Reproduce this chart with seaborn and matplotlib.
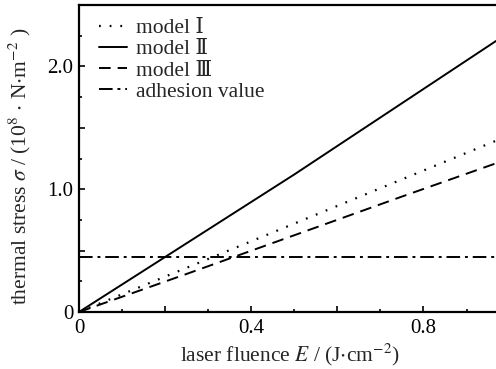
import matplotlib
matplotlib.use("Agg")
import matplotlib.pyplot as plt
from matplotlib.ticker import MultipleLocator, FixedFormatter, FixedLocator
import numpy as np
import pandas as pd
import seaborn as sns

# laser fluence E (J/cm^2)
fluence = [0.0, 0.25, 0.5, 0.75, 1.0]
# thermal stress (10^8 N/m^2) for the three models
model_1 = [0.0, 0.36, 0.72, 1.08, 1.44]
model_2 = [0.0, 0.56, 1.12, 1.70, 2.28]
model_3 = [0.0, 0.31, 0.625, 0.94, 1.25]
adhesion_value = 0.45

labels = ["model \u2160", "model \u2161", "model \u2162", "adhesion value"]

sns.set_theme(style="ticks")
plt.rcParams["font.family"] = ["Liberation Serif", "DejaVu Serif", "Noto Sans CJK SC"]
plt.rcParams["mathtext.fontset"] = "stix"
plt.rcParams["font.size"] = 15

fig = plt.figure(figsize=(4.96, 3.69), dpi=100)
ax = fig.add_axes([79 / 496, 1 - 312 / 369, 1 - 79 / 496 + 0.01, (312 - 5) / 369])

df = pd.DataFrame({"E": fluence, "m1": model_1, "m2": model_2, "m3": model_3})
lw = 1.4
sns.lineplot(data=df, x="E", y="m1", ax=ax, color="black", lw=1.6,
             linestyle=(0, (0.8, 4.0)), label=labels[0])
sns.lineplot(data=df, x="E", y="m2", ax=ax, color="black", lw=lw,
             linestyle="-", label=labels[1])
sns.lineplot(data=df, x="E", y="m3", ax=ax, color="black", lw=lw,
             linestyle=(0, (6, 3.6)), label=labels[2])
ax.axhline(adhesion_value, color="black", lw=lw,
           linestyle=(0, (7, 2.5, 1.5, 2.5)), label=labels[3])

ax.set_xlim(0, 0.98)
ax.set_ylim(0, 2.5)

ax.xaxis.set_major_locator(FixedLocator([0, 0.2, 0.4, 0.6, 0.8]))
ax.xaxis.set_major_formatter(FixedFormatter(["0", "", "0.4", "", "0.8"]))
ax.xaxis.set_minor_locator(MultipleLocator(0.1))
ax.yaxis.set_major_locator(FixedLocator([0, 0.5, 1.0, 1.5, 2.0]))
ax.yaxis.set_major_formatter(FixedFormatter(["0", "", "1.0", "", "2.0"]))
ax.yaxis.set_minor_locator(MultipleLocator(0.25))

ax.tick_params(which="both", direction="in", width=1.2, colors="black",
               labelsize=15)
ax.tick_params(axis="x", pad=5)
ax.tick_params(axis="y", pad=4)
ax.tick_params(which="major", length=4.5)
ax.tick_params(which="minor", length=2.5)
ax.tick_params(axis="both", which="both", top=False, right=False)

for side in ["left", "bottom", "top"]:
    ax.spines[side].set_linewidth(1.6)
    ax.spines[side].set_color("black")
ax.spines["right"].set_visible(False)

ax.set_xlabel(r"laser fluence $E$ / (J$\cdot$cm$^{-2}$)", fontsize=15.5, labelpad=3)
ax.set_ylabel(r"thermal stress $\sigma$ / (10$^{8}$ $\cdot$ N$\cdot$m$^{-2}$ )",
              fontsize=15.5)
ax.yaxis.set_label_coords(-0.11, 0.475)

leg = ax.legend(loc="upper left", frameon=False, fontsize=15.5,
                handlelength=1.3, handletextpad=0.45, labelspacing=0.05,
                borderaxespad=0.0, bbox_to_anchor=(0.026, 0.985))

fig.savefig("out.png", dpi=100)
